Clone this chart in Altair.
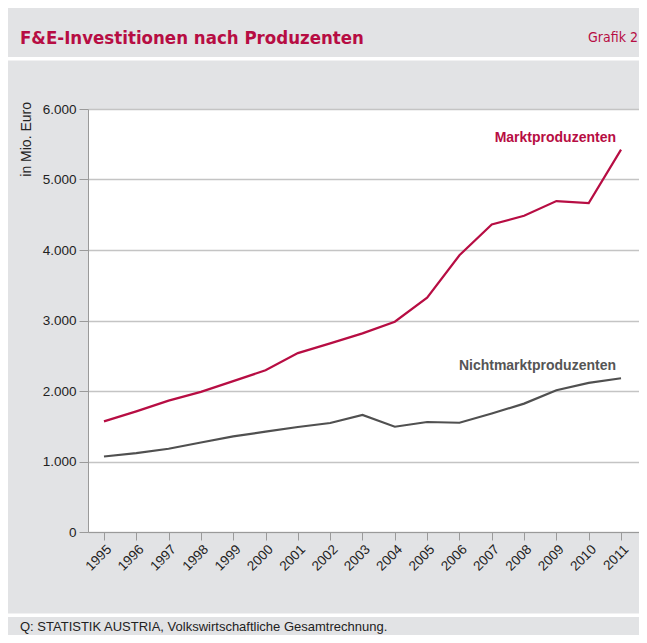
import altair as alt
import pandas as pd

years = list(range(1995, 2012))
markt = [1569, 1711, 1863, 1987, 2140, 2294, 2537, 2675, 2817, 2983, 3324, 3926, 4362, 4485, 4694, 4666, 5424]
nicht = [1071, 1120, 1181, 1270, 1356, 1423, 1489, 1546, 1660, 1493, 1560, 1550, 1680, 1821, 2010, 2115, 2181]
series_names = ["Marktproduzenten", "Nichtmarktproduzenten"]
series_colors = ["#b70d43", "#505050"]
y_ticks = [0, 1000, 2000, 3000, 4000, 5000, 6000]

title_text = "F&E-Investitionen nach Produzenten"
grafik_text = "Grafik 2"
y_title = "in Mio. Euro"
source_text = "Q: STATISTIK AUSTRIA, Volkswirtschaftliche Gesamtrechnung."

rows = []
for y, m, n in zip(years, markt, nicht):
    rows.append({"Jahr": y, "Wert": m, "Serie": series_names[0]})
    rows.append({"Jahr": y, "Wert": n, "Serie": series_names[1]})
df = pd.DataFrame(rows)
dummy = pd.DataFrame({"k": [0]})

W, H = 551, 423
BG = "#e2e3e5"
RED = "#b70d43"
NARROW = "DejaVu Sans Condensed, Liberation Sans Narrow, Roboto Condensed, Liberation Sans"

x_enc = alt.X(
    "Jahr:Q",
    scale=alt.Scale(domain=[1994.506, 2011.556], nice=False, zero=False),
    axis=alt.Axis(
        values=years, format="d", labelAngle=-45, grid=False, title=None,
        tickSize=8, labelPadding=2, labelFontSize=13.5, labelColor="#222",
        domainColor="#9a9a9a", tickColor="#9a9a9a", labelFont="Liberation Sans",
        labelFlush=False, labelOverlap=False,
    ),
)
y_enc = alt.Y(
    "Wert:Q",
    scale=alt.Scale(domain=[0, 6000], nice=False),
    axis=alt.Axis(
        values=y_ticks, title=None, grid=True, gridColor="#c4c4c4", gridWidth=1.5,
        tickSize=9, labelPadding=3, labelFontSize=13.5, labelColor="#222",
        domainColor="#9a9a9a", tickColor="#9a9a9a", labelFont="Liberation Sans",
        labelExpr="replace(format(datum.value, ','), ',', '.')",
    ),
)

lines = alt.Chart(df).mark_line(strokeWidth=2.2).encode(
    x=x_enc,
    y=y_enc,
    color=alt.Color("Serie:N", scale=alt.Scale(domain=series_names, range=series_colors), legend=None),
    detail="Serie:N",
)

sep1 = alt.Chart(dummy).mark_rect(color="white").encode(
    x=alt.value(-82), x2=alt.value(W + 10), y=alt.value(-52), y2=alt.value(-48.5)
)
sep2 = alt.Chart(dummy).mark_rect(color="white").encode(
    x=alt.value(-82), x2=alt.value(W + 10), y=alt.value(504.5), y2=alt.value(508)
)

def txt(s, x, y, **kw):
    return alt.Chart(dummy).mark_text(text=s, **kw).encode(x=alt.value(x), y=alt.value(y))

title = txt(title_text, -68, -65, align="left", baseline="alphabetic", fontSize=18.5,
            fontWeight="bold", font=NARROW, color=RED)
grafik = txt(grafik_text, 550, -67, align="right", baseline="alphabetic", fontSize=14,
             font=NARROW, color=RED)
ytitle = txt(y_title, -61, -7, align="right", baseline="middle", angle=270, fontSize=14,
             font="Liberation Sans", color="#222")
lab_m = txt(series_names[0], 528, 33, align="right", baseline="alphabetic", fontSize=14,
            fontWeight="bold", font="Liberation Sans", color=RED)
lab_n = txt(series_names[1], 528, 261, align="right", baseline="alphabetic", fontSize=14,
            fontWeight="bold", font="Liberation Sans", color="#555555")
source = txt(source_text, -68, 518, align="left", baseline="middle", fontSize=13,
             font="Liberation Sans", color="#222")

chart = alt.layer(sep1, sep2, lines, title, grafik, ytitle, lab_m, lab_n, source).properties(
    width=W, height=H,
    autosize=alt.AutoSizeParams(type="none"),
    padding={"left": 80, "top": 101, "right": 0, "bottom": 103},
    background=BG,
).configure_view(fill="white", stroke=None)

chart.save("out.html", embed_options={"renderer": "svg", "actions": False})
